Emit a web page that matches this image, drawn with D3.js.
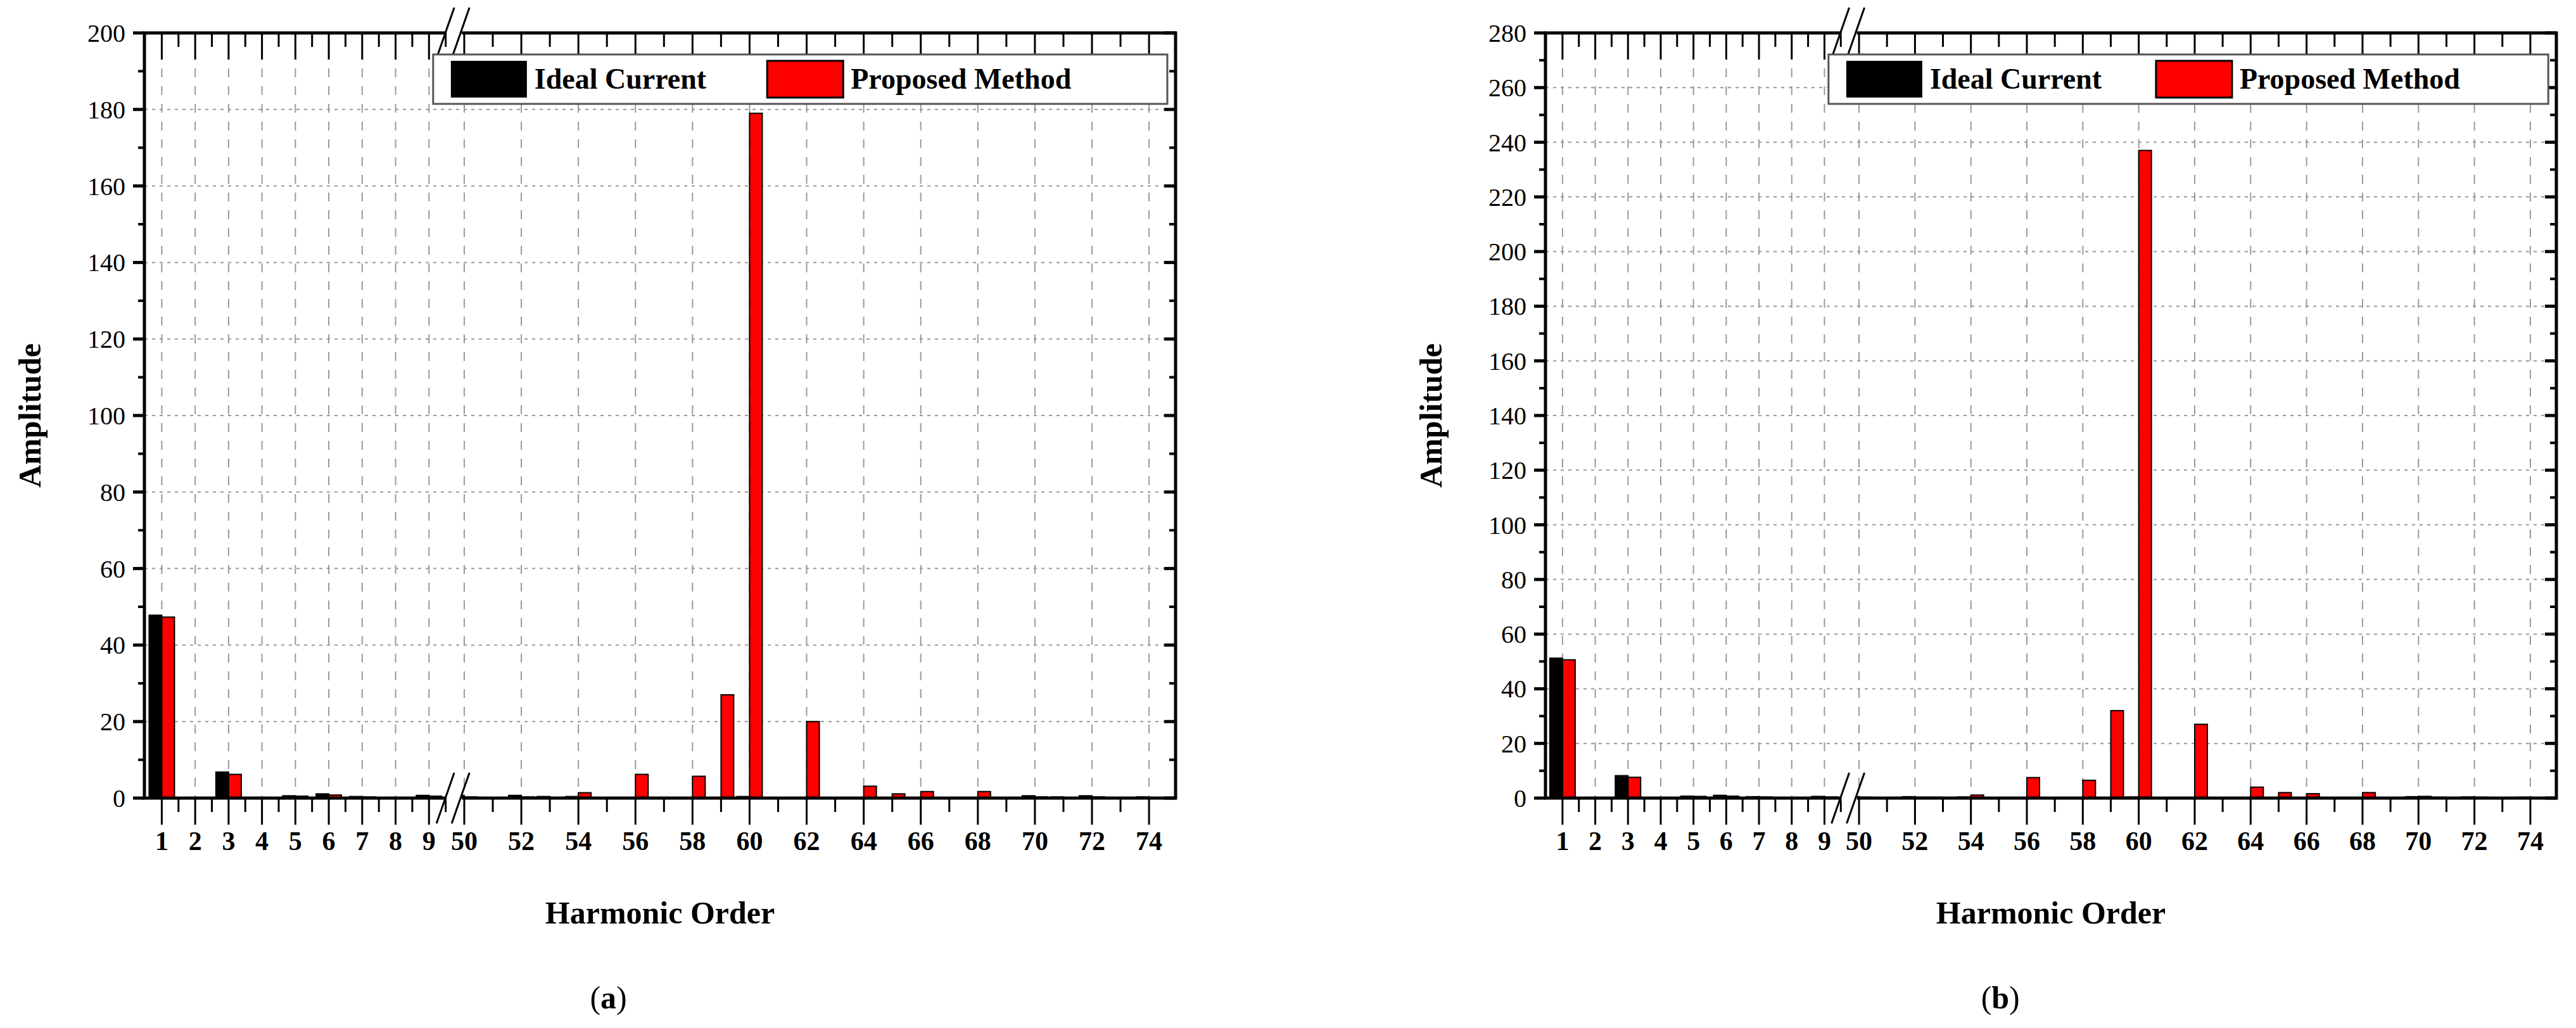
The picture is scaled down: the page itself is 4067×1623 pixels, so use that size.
<!DOCTYPE html>
<html><head><meta charset="utf-8">
<script src="https://cdn.jsdelivr.net/npm/d3@7"></script>
<style>body{margin:0;background:#fff}</style>
</head><body>
<svg width="4067" height="1623"></svg>
<script>
const harmonics = [1,2,3,4,5,6,7,8,9,50,51,52,53,54,55,56,57,58,59,60,61,62,63,64,65,66,67,68,69,70,71,72,73,74];
const tickLabels = [1,2,3,4,5,6,7,8,9,50,52,54,56,58,60,62,64,66,68,70,72,74];

// panel (a)
const idealA    = [47.8,0,6.8,0,0.6,1.1,0.4,0,0.7, 0.7,0,0.7,0.4,0.4,0,0,0,0,0,0.4,0,0,0,0,0,0,0,0,0,0.6,0.3,0.6,0,0.3];
const proposedA = [47.3,0,6.2,0,0.5,0.8,0.3,0,0.5, 0.3,0,0.3,0,1.4,0,6.2,0,5.7,27,179,0,20,0,3.1,1.1,1.7,0,1.7,0,0.3,0,0.3,0,0];
// panel (b)
const idealB    = [51.2,0,8.2,0,0.7,1.0,0.5,0,0.6, 0.5,0,0.5,0.3,0.4,0,0,0,0,0,0.4,0,0,0,0,0,0,0,0,0,0.5,0.3,0.4,0,0.3];
const proposedB = [50.6,0,7.6,0,0.6,0.7,0.4,0,0.4, 0.3,0,0.3,0,1.1,0,7.5,0,6.5,32,237,0,27,0,4,2,1.6,0,2,0,0.6,0,0.3,0,0];

const yTicksA = d3.range(0, 201, 20);
const yTicksB = d3.range(0, 281, 20);

const svg = d3.select('svg');
const FONT = '"Liberation Serif", "Times New Roman", serif';

function drawPanel(left, right, ideal, proposed, yTicks, panelLabel) {
  const top = 52, bottom = 1260;
  const w = right - left, h = bottom - top;
  const g = svg.append('g').attr('transform', `translate(${left},${top})`);

  const brk = w * 0.298;
  const x = d3.scaleLinear().domain([0.48, 9.68, 49.56, 74.93]).range([0, brk, brk, w]);
  const y = d3.scaleLinear().domain([0, d3.max(yTicks)]).range([h, 0]);

  // grid
  g.selectAll('.vg').data(tickLabels).enter().append('line')
    .attr('x1', d => x(d)).attr('x2', d => x(d)).attr('y1', 0).attr('y2', h)
    .attr('stroke', '#999').attr('stroke-width', 2).attr('stroke-dasharray', '14,14');
  g.selectAll('.hg').data(yTicks.slice(1, -1)).enter().append('line')
    .attr('x1', 0).attr('x2', w).attr('y1', d => y(d)).attr('y2', d => y(d))
    .attr('stroke', '#999').attr('stroke-width', 2).attr('stroke-dasharray', '5,7');

  const bw = 20;
  g.selectAll('.bi').data(harmonics).enter().append('rect')
    .attr('x', d => x(d) - bw).attr('width', bw)
    .attr('y', (d, i) => y(ideal[i])).attr('height', (d, i) => h - y(ideal[i]))
    .attr('fill', '#000').attr('stroke', '#000').attr('stroke-width', 2);
  g.selectAll('.bp').data(harmonics).enter().append('rect')
    .attr('x', d => x(d)).attr('width', bw)
    .attr('y', (d, i) => y(proposed[i])).attr('height', (d, i) => h - y(proposed[i]))
    .attr('fill', '#f00').attr('stroke', '#000').attr('stroke-width', 2);

  // frame
  g.append('rect').attr('width', w).attr('height', h).attr('fill', 'none')
    .attr('stroke', '#000').attr('stroke-width', 5);

  const minorX = d3.range(0.5, 9.6, 1).concat(d3.range(51, 75, 2));
  const drawXTicks = (yy, dir) => {
    g.selectAll(null).data(tickLabels).enter().append('line')
      .attr('x1', d => x(d)).attr('x2', d => x(d)).attr('y1', yy).attr('y2', yy + dir * 42)
      .attr('stroke', '#000').attr('stroke-width', 3);
    g.selectAll(null).data(minorX.filter(d => x(d) > 4 && x(d) < w - 4)).enter().append('line')
      .attr('x1', d => x(d)).attr('x2', d => x(d)).attr('y1', yy).attr('y2', yy + dir * 22)
      .attr('stroke', '#000').attr('stroke-width', 3);
  };
  drawXTicks(h, 1);
  drawXTicks(0, 1);

  const minorY = d3.range(10, d3.max(yTicks), 20);
  const drawYTicks = (xx, dir) => {
    g.selectAll(null).data(yTicks).enter().append('line')
      .attr('x1', xx).attr('x2', xx + dir * 18).attr('y1', d => y(d)).attr('y2', d => y(d))
      .attr('stroke', '#000').attr('stroke-width', 5);
    g.selectAll(null).data(minorY).enter().append('line')
      .attr('x1', xx).attr('x2', xx + dir * 10).attr('y1', d => y(d)).attr('y2', d => y(d))
      .attr('stroke', '#000').attr('stroke-width', 4);
  };
  drawYTicks(0, -1);
  drawYTicks(w, -1);

  // axis break marks
  [0, h].forEach(yy => {
    g.append('rect').attr('x', brk - 8).attr('y', yy - 6).attr('width', 24).attr('height', 12).attr('fill', '#fff');
    [-10, 14].forEach(off => {
      g.append('line').attr('x1', brk + off - 14).attr('y1', yy + 40)
        .attr('x2', brk + off + 14).attr('y2', yy - 40)
        .attr('stroke', '#000').attr('stroke-width', 3);
    });
  });

  // tick labels
  g.selectAll('.xl').data(tickLabels).enter().append('text')
    .attr('x', d => x(d)).attr('y', h + 82).attr('text-anchor', 'middle')
    .style('font-family', FONT).style('font-weight', 'bold').style('font-size', '42px')
    .text(d => d);
  g.selectAll('.yl').data(yTicks).enter().append('text')
    .attr('x', -30).attr('y', d => y(d) + 14).attr('text-anchor', 'end')
    .style('font-family', FONT).style('font-size', '40px')
    .text(d => d);

  g.append('text').attr('x', w / 2).attr('y', h + 198).attr('text-anchor', 'middle')
    .style('font-family', FONT).style('font-weight', 'bold').style('font-size', '50px')
    .text('Harmonic Order');
  g.append('text').attr('transform', `translate(-164,${h / 2}) rotate(-90)`).attr('text-anchor', 'middle')
    .style('font-family', FONT).style('font-weight', 'bold').style('font-size', '50px')
    .text('Amplitude');
  g.append('text').attr('x', w * 0.45).attr('y', h + 332).attr('text-anchor', 'middle')
    .style('font-family', FONT).style('font-size', '50px')
    .html(`(<tspan font-weight="bold">${panelLabel}</tspan>)`);

  // legend
  const lx = w * 0.28, ly = 34, lw = w * 0.712, lh = 78;
  const lg = g.append('g').attr('transform', `translate(${lx},${ly})`);
  lg.append('rect').attr('width', lw).attr('height', lh).attr('fill', '#fff')
    .attr('stroke', '#555').attr('stroke-width', 3);
  lg.append('rect').attr('x', 28).attr('y', 10).attr('width', 120).attr('height', 58).attr('fill', '#000');
  lg.append('text').attr('x', 160).attr('y', 54)
    .style('font-family', FONT).style('font-weight', 'bold').style('font-size', '46px').text('Ideal Current');
  lg.append('rect').attr('x', lw * 0.455).attr('y', 10).attr('width', 120).attr('height', 58)
    .attr('fill', '#f00').attr('stroke', '#000').attr('stroke-width', 3);
  lg.append('text').attr('x', lw * 0.455 + 132).attr('y', 54)
    .style('font-family', FONT).style('font-weight', 'bold').style('font-size', '46px').text('Proposed Method');
}

drawPanel(228, 1856, idealA, proposedA, yTicksA, 'a');
drawPanel(2440, 4036, idealB, proposedB, yTicksB, 'b');
</script>
</body></html>
